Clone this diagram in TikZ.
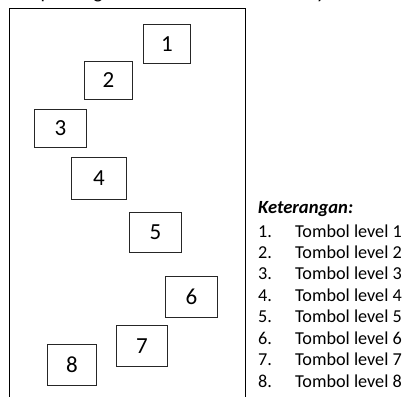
\documentclass[tikz,border=0pt]{standalone}
\usepackage{fontspec}
\setmainfont{Carlito}
\begin{document}
\begin{tikzpicture}[x=1pt,y=-1pt,
  btn/.style={draw=black!85,line width=1.1pt,inner sep=0pt,font=\fontsize{23}{23}\selectfont},
  legend/.style={anchor=base west,inner sep=0pt,font=\fontsize{18.2}{18}\selectfont},
  frag/.style={anchor=base,inner sep=0pt,font=\fontsize{20}{20}\selectfont},
  frame/.style={draw=black,line width=1.3pt}]
\useasboundingbox (0,0) rectangle (409,396);
% top cut-off title fragments
\node[frag] (tp) at (46,-1.5) {p};
\node[frag] (tg) at (98,-1.5) {g};
\node[frag] (ty) at (321,-1.5) {y};
% frame
\draw[frame] (9.5,410) -- (9.5,8.5) -- (245.5,8.5) -- (245.5,410);
% buttons
\node[btn,minimum width=47pt,minimum height=39pt] (b1) at (167,44) {1};
\node[btn,minimum width=48pt,minimum height=38pt] (b2) at (108.5,80.5) {2};
\node[btn,minimum width=52pt,minimum height=38pt] (b3) at (60.5,128.5) {3};
\node[btn,minimum width=55pt,minimum height=42pt] (b4) at (99,178.5) {4};
\node[btn,minimum width=52pt,minimum height=40pt] (b5) at (155.5,232.5) {5};
\node[btn,minimum width=52pt,minimum height=41pt] (b6) at (191.5,297) {6};
\node[btn,minimum width=51pt,minimum height=41pt] (b7) at (142,346) {7};
\node[btn,minimum width=49pt,minimum height=41pt] (b8) at (72,365) {8};
% legend
\node[legend,font=\fontsize{18.6}{18}\selectfont\bfseries\itshape] (kt) at (258,213.5) {Keterangan:};
\foreach \i in {1,...,8}{
  \pgfmathsetmacro{\yy}{237+21.45*(\i-1)}
  \node[legend] (n\i) at (258,\yy) {\i.};
  \node[legend] (t\i) at (295,\yy) {Tombol level \i};
}
\end{tikzpicture}
\end{document}
